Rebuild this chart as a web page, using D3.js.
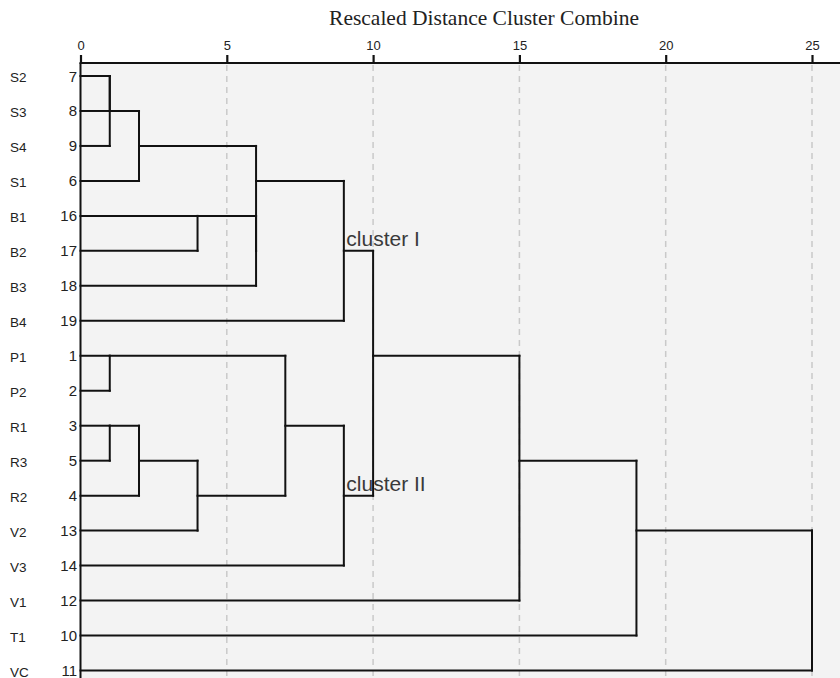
<!DOCTYPE html>
<html>
<head>
<meta charset="utf-8">
<script src="https://cdn.jsdelivr.net/npm/d3@7"></script>
<style>
  body { margin: 0; background: #fff; }
</style>
</head>
<body>
<svg width="840" height="678"></svg>
<script>
// leaves, top to bottom
const rowLabels = ['S2','S3','S4','S1','B1','B2','B3','B4','P1','P2','R1','R3','R2','V2','V3','V1','T1','VC']
const caseNumbers = [7, 8, 9, 6, 16, 17, 18, 19, 1, 2, 3, 5, 4, 13, 14, 12, 10, 11]

// merges: [left, right, rescaled distance]; cN refers to the Nth merge
const merges = [
  ['S2', 'S3', 1],    // c0
  ['c0', 'S4', 1],    // c1
  ['c1', 'S1', 2],    // c2
  ['B1', 'B2', 4],    // c3
  ['c3', 'B3', 6],    // c4
  ['c2', 'c4', 6],    // c5
  ['c5', 'B4', 9],    // c6
  ['P1', 'P2', 1],    // c7
  ['R1', 'R3', 1],    // c8
  ['c8', 'R2', 2],    // c9
  ['c9', 'V2', 4],    // c10
  ['c7', 'c10', 7],   // c11
  ['c11', 'V3', 9],   // c12
  ['c6', 'c12', 10],  // c13
  ['c13', 'V1', 15],  // c14
  ['c14', 'T1', 19],  // c15
  ['c15', 'VC', 25]   // c16
]

const clusterLabels = [['cluster I', 'c6'], ['cluster II', 'c12']]
const tickValues = [0, 5, 10, 15, 20, 25]
const title = 'Rescaled Distance Cluster Combine'

const sans = '"Liberation Sans", Arial, sans-serif'
const serif = '"Liberation Serif", "Times New Roman", serif'

const svg = d3.select('svg')
const width = +svg.attr('width')
const height = +svg.attr('height')

const axisY = 63

const xScale = d3.scaleLinear().domain([0, 25]).range([80.5, 812])
const yScale = d3.scaleLinear().domain([0, rowLabels.length - 1]).range([76, 670.5])

// node positions: leaves at their row, clusters at floor of the midpoint (SPSS style)
const nodes = {}
rowLabels.forEach((d, i) => { nodes[d] = { row: i, h: 0 } })
merges.forEach((m, i) => {
  const a = nodes[m[0]], b = nodes[m[1]]
  nodes['c' + i] = { row: Math.floor((a.row + b.row) / 2), h: m[2] }
})

// panel
svg.append('rect')
  .attr('x', xScale(0)).attr('y', axisY)
  .attr('width', width - xScale(0)).attr('height', height - axisY)
  .attr('fill', '#f3f3f3')

// dashed grid
svg.append('g').selectAll('line').data(tickValues.slice(1))
  .enter().append('line')
    .attr('x1', d => xScale(d)).attr('x2', d => xScale(d))
    .attr('y1', axisY + 2).attr('y2', height)
    .attr('stroke', '#c9c9c9')
    .attr('stroke-width', 1.5)
    .attr('stroke-dasharray', '6,5')

// dendrogram segments
const segs = []
merges.forEach(m => {
  const h = m[2]
  const a = nodes[m[0]], b = nodes[m[1]]
  segs.push([a.h, a.row, h, a.row])
  segs.push([b.h, b.row, h, b.row])
  segs.push([h, a.row, h, b.row])
})
svg.append('g').selectAll('line').data(segs)
  .enter().append('line')
    .attr('x1', d => xScale(d[0])).attr('y1', d => yScale(d[1]))
    .attr('x2', d => xScale(d[2])).attr('y2', d => yScale(d[3]))
    .attr('stroke', '#111')
    .attr('stroke-width', 2)
    .attr('stroke-linecap', 'square')

// axis
const axis = svg.append('g')
  .attr('transform', `translate(0, ${axisY})`)
  .call(d3.axisTop(xScale).tickValues(tickValues).tickSize(8).tickPadding(5))
axis.select('.domain').remove()
axis.selectAll('.tick line').attr('stroke', '#111').attr('stroke-width', 2.2)
axis.selectAll('.tick text')
  .style('font-family', sans)
  .style('font-size', '13px').attr('fill', '#222')
svg.append('line')
  .attr('x1', xScale(0) - 1).attr('x2', width)
  .attr('y1', axisY).attr('y2', axisY)
  .attr('stroke', '#111').attr('stroke-width', 2.2)
svg.append('line')
  .attr('x1', xScale(0)).attr('x2', xScale(0))
  .attr('y1', axisY).attr('y2', height)
  .attr('stroke', '#111').attr('stroke-width', 2)

svg.append('text')
  .attr('x', 484).attr('y', 25)
  .attr('text-anchor', 'middle')
  .style('font-family', serif)
  .style('font-size', '21.5px').attr('fill', '#222')
  .text(title)

// row labels
svg.append('g').selectAll('text').data(rowLabels)
  .enter().append('text')
    .attr('x', 10).attr('y', (d, i) => yScale(i) + 6)
    .style('font-family', sans)
    .style('font-size', '13.5px').attr('fill', '#222')
    .text(d => d)

svg.append('g').selectAll('text').data(caseNumbers)
  .enter().append('text')
    .attr('x', 77).attr('y', (d, i) => yScale(i) + 5.5)
    .attr('text-anchor', 'end')
    .style('font-family', sans)
    .style('font-size', '15px').attr('fill', '#222')
    .text(d => d)

// cluster labels
svg.append('g').selectAll('text').data(clusterLabels)
  .enter().append('text')
    .attr('x', d => xScale(nodes[d[1]].h) + 2.5)
    .attr('y', d => yScale(nodes[d[1]].row) - 5)
    .style('font-family', sans)
    .style('font-size', '21px').attr('fill', '#3a3a3a')
    .text(d => d[0])
</script>
</body>
</html>
